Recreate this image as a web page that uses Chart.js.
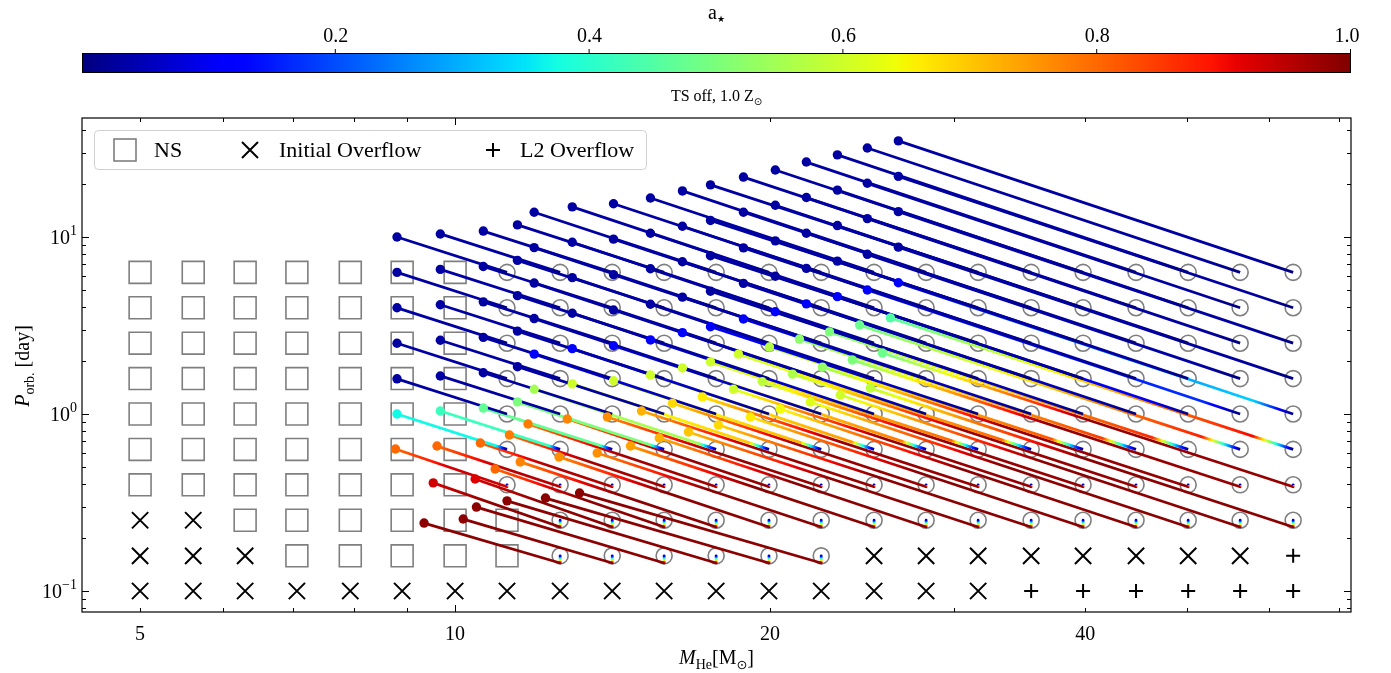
<!DOCTYPE html>
<html><head><meta charset="utf-8">
<script src="https://cdn.jsdelivr.net/npm/chart.js@4.4.0/dist/chart.umd.min.js"></script>
<style>html,body{margin:0;padding:0;background:#fff;}canvas{display:block;}</style>
</head><body>
<canvas id="c" width="1391" height="673"></canvas>
<script>
// ---------------- data ----------------
const massGrid = [5.00, 5.62, 6.30, 7.06, 7.94, 8.90, 10.0, 11.21, 12.60, 14.13, 15.84, 17.76, 19.95, 22.38, 25.14, 28.19, 31.61, 35.52, 39.82, 44.74, 50.18, 56.26, 63.22];
const periodGrid = [0.100, 0.158, 0.251, 0.398, 0.631, 1.000, 1.585, 2.512, 3.981, 6.310];
// S = NS, X = initial overflow, L = L2 overflow, B = BH track start (circle)
const outcomeRows = [
  'XXXXXXXXXXXXXXXXXLLLLLL',
  'XXXSSSSSBBBBBBXXXXXXXXL',
  'XXSSSSSSBBBBBBBBBBBBBBB',
  'SSSSSSSBBBBBBBBBBBBBBBB',
  'SSSSSSSBBBBBBBBBBBBBBBB',
  'SSSSSSSBBBBBBBBBBBBBBBB',
  'SSSSSSSBBBBBBBBBBBBBBBB',
  'SSSSSSSBBBBBBBBBBBBBBBB',
  'SSSSSSSBBBBBBBBBBBBBBBB',
  'SSSSSSSBBBBBBBBBBBBBBBB'
];
// end of each track (one entry per circle in the row, left to right)
const endMass = [
  null,
  [9.34, 10.18, 10.48, 11.21, 12.20, 13.15],
  [9.53, 10.45, 10.92, 11.54, 12.57, 13.67, 14.71, 15.67, 16.71, 17.85, 19.15, 20.45, 21.85, 23.34, 24.93],
  [8.77, 9.61, 10.57, 11.27, 11.74, 12.80, 13.98, 15.07, 16.13, 17.23, 18.45, 19.66, 21.01, 22.44, 23.96, 25.61],
  [8.80, 9.68, 10.64, 11.47, 11.90, 12.94, 14.17, 15.37, 16.49, 17.54, 18.65, 19.97, 21.33, 22.79, 24.35, 26.06],
  [8.80, 9.68, 10.64, 11.47, 11.90, 12.94, 14.17, 15.37, 16.49, 17.54, 18.86, 20.23, 21.66, 23.19, 24.77, 26.52],
  [8.80, 9.68, 10.64, 11.47, 11.90, 12.94, 14.17, 15.37, 16.49, 17.54, 18.86, 20.23, 21.66, 23.19, 24.77, 26.52],
  [8.80, 9.68, 10.64, 11.47, 11.90, 12.94, 14.17, 15.37, 16.49, 17.54, 18.86, 20.23, 21.66, 23.19, 24.77, 26.52],
  [8.80, 9.68, 10.64, 11.47, 11.90, 12.94, 14.17, 15.37, 16.49, 17.54, 18.86, 20.23, 21.66, 23.19, 24.77, 26.52],
  [8.80, 9.68, 10.64, 11.47, 11.90, 12.94, 14.17, 15.37, 16.49, 17.54, 18.86, 20.23, 21.66, 23.19, 24.77, 26.52]
];
const endPeriod = [
  null,
  [0.242, 0.255, 0.298, 0.323, 0.335, 0.358],
  [0.408, 0.429, 0.489, 0.536, 0.572, 0.602, 0.659, 0.732, 0.791, 0.867, 0.962, 1.067, 1.169, 1.28, 1.40],
  [0.634, 0.659, 0.686, 0.761, 0.878, 0.937, 0.962, 1.04, 1.15, 1.25, 1.38, 1.52, 1.68, 1.84, 2.02, 2.21],
  [1.00, 1.04, 1.08, 1.17, 1.38, 1.48, 1.54, 1.66, 1.82, 1.97, 2.18, 2.39, 2.65, 2.91, 3.18, 3.49],
  [1.58, 1.64, 1.71, 1.85, 2.18, 2.34, 2.43, 2.62, 2.88, 3.11, 3.44, 3.78, 4.19, 4.60, 5.02, 5.51],
  [2.51, 2.61, 2.71, 2.94, 3.46, 3.71, 3.87, 4.17, 4.57, 4.94, 5.47, 6.00, 6.65, 7.30, 7.98, 8.76],
  [3.98, 4.14, 4.30, 4.66, 5.49, 5.89, 6.13, 6.61, 7.24, 7.84, 8.68, 9.51, 10.5, 11.6, 12.7, 13.9],
  [6.31, 6.56, 6.81, 7.38, 8.71, 9.34, 9.72, 10.5, 11.5, 12.4, 13.8, 15.1, 16.7, 18.4, 20.1, 22.0],
  [10.0, 10.4, 10.8, 11.7, 13.8, 14.8, 15.4, 16.6, 18.2, 19.7, 21.8, 23.9, 26.5, 29.1, 31.8, 34.9]
];
// period reached by the short initial drop below the circle (tight orbits)
const hookPeriod = [null, 0.144, 0.230, 0.388, null, null, null, null, null, null];
// spin a* along the track (main part) and at the end (dot)
const peakSpin = [
  null,
  [0.99, 0.99, 0.99, 0.99, 0.99, 0.99],
  [0.99, 0.99, 0.99, 0.99, 0.99, 0.99, 0.99, 0.99, 0.99, 0.99, 0.99, 0.99, 0.99, 0.99, 0.99],
  [0.93, 0.95, 0.96, 0.97, 0.97, 0.98, 0.98, 0.98, 0.98, 0.98, 0.98, 0.98, 0.98, 0.98, 0.98, 0.98],
  [0.37, 0.42, 0.47, 0.50, 0.55, 0.70, 0.72, 0.75, 0.78, 0.80, 0.80, 0.82, 0.85, 0.87, 0.88, 0.90],
  [0.03, 0.03, 0.03, 0.03, 0.03, 0.03, 0.03, 0.03, 0.03, 0.03, 0.03, 0.03, 0.03, 0.10, 0.17, 0.33],
  [0.03, 0.03, 0.03, 0.03, 0.03, 0.03, 0.03, 0.03, 0.03, 0.03, 0.03, 0.03, 0.03, 0.03, 0.03, 0.03],
  [0.03, 0.03, 0.03, 0.03, 0.03, 0.03, 0.03, 0.03, 0.03, 0.03, 0.03, 0.03, 0.03, 0.03, 0.03, 0.03],
  [0.03, 0.03, 0.03, 0.03, 0.03, 0.03, 0.03, 0.03, 0.03, 0.03, 0.03, 0.03, 0.03, 0.03, 0.03, 0.03],
  [0.03, 0.03, 0.03, 0.03, 0.03, 0.03, 0.03, 0.03, 0.03, 0.03, 0.03, 0.03, 0.03, 0.03, 0.03, 0.03]
];
const finalSpin = [
  null,
  [0.99, 0.99, 0.99, 0.99, 0.99, 0.99],
  [0.93, 0.92, 0.80, 0.77, 0.76, 0.76, 0.74, 0.72, 0.70, 0.68, 0.66, 0.64, 0.62, 0.60, 0.58],
  [0.80, 0.80, 0.80, 0.78, 0.78, 0.77, 0.76, 0.72, 0.68, 0.66, 0.60, 0.58, 0.56, 0.53, 0.50, 0.48],
  [0.37, 0.42, 0.47, 0.50, 0.55, 0.60, 0.60, 0.60, 0.60, 0.60, 0.60, 0.57, 0.52, 0.50, 0.48, 0.45],
  [0.03, 0.03, 0.03, 0.03, 0.12, 0.12, 0.12, 0.12, 0.12, 0.12, 0.12, 0.12, 0.12, 0.12, 0.12, 0.12],
  [0.03, 0.03, 0.03, 0.03, 0.03, 0.03, 0.03, 0.03, 0.03, 0.03, 0.03, 0.03, 0.03, 0.03, 0.03, 0.03],
  [0.03, 0.03, 0.03, 0.03, 0.03, 0.03, 0.03, 0.03, 0.03, 0.03, 0.03, 0.03, 0.03, 0.03, 0.03, 0.03],
  [0.03, 0.03, 0.03, 0.03, 0.03, 0.03, 0.03, 0.03, 0.03, 0.03, 0.03, 0.03, 0.03, 0.03, 0.03, 0.03],
  [0.03, 0.03, 0.03, 0.03, 0.03, 0.03, 0.03, 0.03, 0.03, 0.03, 0.03, 0.03, 0.03, 0.03, 0.03, 0.03]
];
const cbarTicks = [0.2, 0.4, 0.6, 0.8, 1.0];
const xTickValues = [5, 10, 20, 40];
const yTickValues = [0.1, 1, 10];
const yTickExp = ['\u22121', '0', '1'];
const xMinorTicks = [5, 6, 7, 8, 9, 20, 30, 40, 50, 60, 70];
const xMajorTicks = [10];
const yMinorTicks = [0.08, 0.09, 0.2, 0.3, 0.4, 0.5, 0.6, 0.7, 0.8, 0.9, 2, 3, 4, 5, 6, 7, 8, 9, 20, 30, 40];
const yMajorTicks = [0.1, 1, 10];

// ---------------- colormap (matplotlib jet) ----------------
const JET = {
  r: [[0, 0], [0.35, 0], [0.66, 1], [0.89, 1], [1, 0.5]],
  g: [[0, 0], [0.125, 0], [0.375, 1], [0.64, 1], [0.91, 0], [1, 0]],
  b: [[0, 0.5], [0.11, 1], [0.34, 1], [0.65, 0], [1, 0]]
};
function seg(tab, x) {
  for (let i = 1; i < tab.length; i++) {
    if (x <= tab[i][0]) {
      const [x0, y0] = tab[i - 1], [x1, y1] = tab[i];
      return y0 + (y1 - y0) * (x - x0) / (x1 - x0);
    }
  }
  return tab[tab.length - 1][1];
}
function jet(s) {
  s = Math.max(0, Math.min(1, s));
  return 'rgb(' + Math.round(255 * seg(JET.r, s)) + ',' + Math.round(255 * seg(JET.g, s)) + ',' + Math.round(255 * seg(JET.b, s)) + ')';
}

// ---------------- datasets ----------------
const markers = {S: [], X: [], L: [], B: []};
outcomeRows.forEach((row, j) => {
  [...row].forEach((ch, c) => markers[ch].push({x: massGrid[c], y: periodGrid[j]}));
});

const SPIN_RISE = 0.1;  // style: fraction of a wide track over which the colour rises
const SPIN_HOLD = 0.5;  // style: fraction of a tight (hooked) track kept at the peak colour
const trackSets = [];
const dotPts = [], dotCols = [];
for (let j = 1; j < outcomeRows.length; j++) {
  const c0 = outcomeRows[j].indexOf('B');
  endMass[j].forEach((mEnd, k) => {
    const c = c0 + k;
    const pts = [{x: massGrid[c], y: periodGrid[j]}];
    const pk = peakSpin[j][k], fin = finalSpin[j][k];
    const pEnd = endPeriod[j][k];
    const stops = [];
    if (hookPeriod[j] !== null) {
      pts.push({x: massGrid[c], y: hookPeriod[j]});
      stops.push([[0, 0.05], [1, pk]]);
      stops.push([[0, pk], [SPIN_HOLD, pk], [1, fin]]);
    } else {
      stops.push([[0, 0.0], [SPIN_RISE, pk], [1, fin]]);
    }
    pts.push({x: mEnd, y: pEnd});
    trackSets.push({
      type: 'line', data: pts, gradStops: stops, order: 10 - j,
      borderWidth: 2.8, pointRadius: 0, pointHoverRadius: 0, fill: false, tension: 0,
      borderJoinStyle: 'round', borderColor: jet(pk),
      segment: {borderColor: segColor}
    });
    dotPts.push({x: mEnd, y: pEnd});
    dotCols.push(jet(fin));
  });
}
// gradient along a segment, sampled through the jet colormap
function segColor(ctx) {
  const ds = ctx.chart.data.datasets[ctx.datasetIndex];
  const st = ds.gradStops[ctx.p0DataIndex];
  const g = ctx.chart.ctx.createLinearGradient(ctx.p0.x, ctx.p0.y, ctx.p1.x, ctx.p1.y);
  const N = 16;
  for (let i = 0; i < st.length - 1; i++) {
    const [t0, s0] = st[i], [t1, s1] = st[i + 1];
    for (let n = 0; n <= N; n++) {
      const f = n / N;
      g.addColorStop(t0 + (t1 - t0) * f, jet(s0 + (s1 - s0) * f));
    }
  }
  return g;
}

const GRAY = '#7f7f7f';
const markerSets = [
  {type: 'line', data: markers.S, showLine: false, order: 20, pointStyle: 'rect', pointRadius: 15.5, pointBorderColor: GRAY, pointBackgroundColor: 'rgba(0,0,0,0)', pointBorderWidth: 1.6},
  {type: 'line', data: markers.B, showLine: false, order: 20, pointStyle: 'circle', pointRadius: 8, pointBorderColor: GRAY, pointBackgroundColor: 'rgba(0,0,0,0)', pointBorderWidth: 1.6},
  {type: 'line', data: markers.X, showLine: false, order: 20, pointStyle: 'crossRot', pointRadius: 11.5, pointBorderColor: '#000', pointBorderWidth: 2},
  {type: 'line', data: markers.L, showLine: false, order: 20, pointStyle: 'cross', pointRadius: 7, pointBorderColor: '#000', pointBorderWidth: 2}
];
const dotSet = {type: 'line', data: dotPts, showLine: false, order: 0, pointStyle: 'circle', pointRadius: 4.7, pointBackgroundColor: dotCols, pointBorderWidth: 0};

// ---------------- text helpers ----------------
const SERIF = '"Liberation Serif", "DejaVu Serif", serif';
function richWidth(ctx, parts) {
  let w = 0;
  parts.forEach(p => { ctx.font = p.f; w += ctx.measureText(p.t).width; });
  return w;
}
function drawRich(ctx, parts, x, y, align) {
  const w = richWidth(ctx, parts);
  let cx = align === 'center' ? x - w / 2 : (align === 'right' ? x - w : x);
  ctx.textBaseline = 'alphabetic';
  ctx.textAlign = 'left';
  parts.forEach(p => {
    ctx.font = p.f;
    ctx.fillText(p.t, cx, y + (p.dy || 0));
    cx += ctx.measureText(p.t).width;
  });
}

const decor = {
  id: 'decor',
  afterDraw(chart) {
    const ctx = chart.ctx, a = chart.chartArea;
    const xs = chart.scales.x, ys = chart.scales.y;
    ctx.save();
    ctx.fillStyle = '#000';
    ctx.strokeStyle = '#000';
    // frame
    ctx.lineWidth = 1.2;
    ctx.strokeRect(a.left, a.top, a.right - a.left, a.bottom - a.top);
    // inward ticks
    ctx.lineWidth = 1;
    const tick = (vals, len) => {
      vals.forEach(v => {
        const px = Math.round(xs.getPixelForValue(v)) + 0.5;
        if (px < a.left || px > a.right) return;
        ctx.beginPath();
        ctx.moveTo(px, a.bottom); ctx.lineTo(px, a.bottom - len);
        ctx.moveTo(px, a.top); ctx.lineTo(px, a.top + len);
        ctx.stroke();
      });
    };
    const ytick = (vals, len) => {
      vals.forEach(v => {
        const py = Math.round(ys.getPixelForValue(v)) + 0.5;
        if (py < a.top || py > a.bottom) return;
        ctx.beginPath();
        ctx.moveTo(a.left, py); ctx.lineTo(a.left + len, py);
        ctx.moveTo(a.right, py); ctx.lineTo(a.right - len, py);
        ctx.stroke();
      });
    };
    tick(xMinorTicks, 4); tick(xMajorTicks, 7);
    ytick(yMinorTicks, 4); ytick(yMajorTicks, 7);
    // x tick labels
    ctx.font = '20px ' + SERIF;
    ctx.textAlign = 'center'; ctx.textBaseline = 'alphabetic';
    xTickValues.forEach(v => ctx.fillText(String(v), xs.getPixelForValue(v), a.bottom + 28));
    // y tick labels
    yTickValues.forEach((v, i) => {
      drawRich(ctx, [{t: '10', f: '20px ' + SERIF}, {t: yTickExp[i], f: '14px ' + SERIF, dy: -9}], 77, ys.getPixelForValue(v) + 7, 'right');
    });
    // axis titles
    drawRich(ctx, [
      {t: 'M', f: 'italic 20px ' + SERIF}, {t: 'He', f: '14px ' + SERIF, dy: 5},
      {t: '[M', f: '20px ' + SERIF}, {t: '\u2299', f: '13px "DejaVu Sans", sans-serif', dy: 5}, {t: ']', f: '20px ' + SERIF}
    ], (a.left + a.right) / 2, 664, 'center');
    ctx.save();
    ctx.translate(29, 366);
    ctx.rotate(-Math.PI / 2);
    drawRich(ctx, [
      {t: 'P', f: 'italic 20px ' + SERIF}, {t: 'orb.', f: '14px ' + SERIF, dy: 5}, {t: ' [day]', f: '20px ' + SERIF}
    ], 0, 0, 'center');
    ctx.restore();
    // colorbar
    const cbTop = 53, cbH = 19;
    const cx0 = a.left, cx1 = a.right;
    const g = ctx.createLinearGradient(cx0, 0, cx1, 0);
    for (let i = 0; i <= 100; i++) g.addColorStop(i / 100, jet(i / 100));
    ctx.fillStyle = g;
    ctx.fillRect(cx0, cbTop, cx1 - cx0, cbH);
    ctx.lineWidth = 1;
    ctx.strokeStyle = '#000';
    ctx.strokeRect(cx0 + 0.5, cbTop + 0.5, cx1 - cx0 - 1, cbH);
    ctx.fillStyle = '#000';
    ctx.font = '20px ' + SERIF;
    ctx.textAlign = 'center';
    cbarTicks.forEach(v => {
      const px = cx0 + v * (cx1 - cx0);
      ctx.fillText(v.toFixed(1), Math.min(px, cx1 - 4), 42);
      ctx.beginPath(); ctx.moveTo(px - 0.5, cbTop); ctx.lineTo(px - 0.5, cbTop - 4); ctx.stroke();
    });
    drawRich(ctx, [{t: 'a', f: '20px ' + SERIF}, {t: '\u2605', f: '9px "DejaVu Sans", sans-serif', dy: 3}], (cx0 + cx1) / 2, 19, 'center');
    drawRich(ctx, [{t: 'TS off, 1.0 Z', f: '16px ' + SERIF}, {t: '\u2299', f: '10px "DejaVu Sans", sans-serif', dy: 4}], (cx0 + cx1) / 2, 101, 'center');
    // legend
    const L = {x: 94.5, y: 130.5, w: 552, h: 39, r: 4};
    ctx.beginPath();
    ctx.moveTo(L.x + L.r, L.y);
    ctx.arcTo(L.x + L.w, L.y, L.x + L.w, L.y + L.h, L.r);
    ctx.arcTo(L.x + L.w, L.y + L.h, L.x, L.y + L.h, L.r);
    ctx.arcTo(L.x, L.y + L.h, L.x, L.y, L.r);
    ctx.arcTo(L.x, L.y, L.x + L.w, L.y, L.r);
    ctx.closePath();
    ctx.fillStyle = 'rgba(255,255,255,0.85)';
    ctx.fill();
    ctx.strokeStyle = '#d0d0d0';
    ctx.lineWidth = 1;
    ctx.stroke();
    const ly = 150;
    ctx.strokeStyle = GRAY; ctx.lineWidth = 1.6;
    ctx.strokeRect(125 - 11, ly - 11, 22, 22);
    ctx.strokeStyle = '#000'; ctx.lineWidth = 2;
    ctx.beginPath();
    ctx.moveTo(250 - 8, ly - 8); ctx.lineTo(250 + 8, ly + 8);
    ctx.moveTo(250 + 8, ly - 8); ctx.lineTo(250 - 8, ly + 8);
    ctx.moveTo(493 - 7, ly); ctx.lineTo(493 + 7, ly);
    ctx.moveTo(493, ly - 7); ctx.lineTo(493, ly + 7);
    ctx.stroke();
    ctx.fillStyle = '#000';
    ctx.font = '22px ' + SERIF;
    ctx.textAlign = 'left'; ctx.textBaseline = 'alphabetic';
    ctx.fillText('NS', 154, ly + 7);
    ctx.fillText('Initial Overflow', 279, ly + 7);
    ctx.fillText('L2 Overflow', 520, ly + 7);
    ctx.restore();
  }
};

new Chart(document.getElementById('c'), {
  type: 'line',
  data: {datasets: [dotSet, ...trackSets, ...markerSets]},
  options: {
    responsive: false, animation: false, devicePixelRatio: 1, events: [],
    layout: {padding: {top: 118, right: 40, left: 0, bottom: 0}},
    plugins: {legend: {display: false}, tooltip: {enabled: false}},
    scales: {
      x: {type: 'logarithmic', min: 4.40, max: 71.8,
          ticks: {display: false}, grid: {display: false, drawTicks: false}, border: {display: false},
          afterFit(s) { s.height = 61; }},
      y: {type: 'logarithmic', min: 0.0761, max: 47.0,
          ticks: {display: false}, grid: {display: false, drawTicks: false}, border: {display: false},
          afterFit(s) { s.width = 82; }}
    }
  },
  plugins: [decor]
});
</script>
</body></html>
